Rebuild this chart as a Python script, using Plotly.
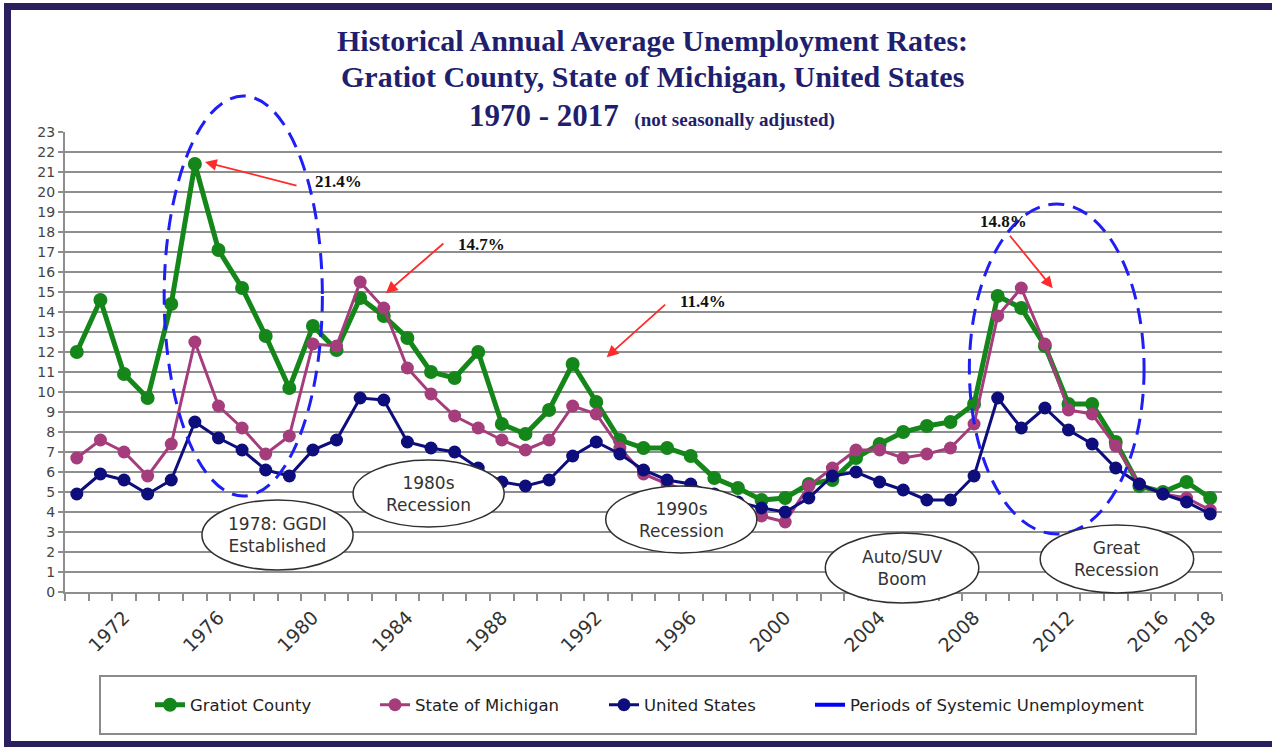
import plotly.graph_objects as go

# ---- data -----------------------------------------------------------------
years = [1970, 1971, 1972, 1973, 1974, 1975, 1976, 1977, 1978, 1979,
         1980, 1981, 1982, 1983, 1984, 1985, 1986, 1987, 1988, 1989,
         1990, 1991, 1992, 1993, 1994, 1995, 1996, 1997, 1998, 1999,
         2000, 2001, 2002, 2003, 2004, 2005, 2006, 2007, 2008, 2009,
         2010, 2011, 2012, 2013, 2014, 2015, 2016, 2017, 2018]

gratiot = [12.0, 14.6, 10.9, 9.7, 14.4, 21.4, 17.1, 15.2, 12.8, 10.2,
           13.3, 12.1, 14.7, 13.8, 12.7, 11.0, 10.7, 12.0, 8.4, 7.9,
           9.1, 11.4, 9.5, 7.6, 7.2, 7.2, 6.8, 5.7, 5.2, 4.6,
           4.7, 5.4, 5.6, 6.7, 7.4, 8.0, 8.3, 8.5, 9.4, 14.8,
           14.2, 12.3, 9.4, 9.4, 7.5, 5.3, 5.0, 5.5, 4.7]

michigan = [6.7, 7.6, 7.0, 5.8, 7.4, 12.5, 9.3, 8.2, 6.9, 7.8,
            12.4, 12.3, 15.5, 14.2, 11.2, 9.9, 8.8, 8.2, 7.6, 7.1,
            7.6, 9.3, 8.9, 7.2, 5.9, 5.4, 5.0, 4.3, 3.9, 3.8,
            3.5, 5.3, 6.2, 7.1, 7.1, 6.7, 6.9, 7.2, 8.4, 13.8,
            15.2, 12.4, 9.1, 8.9, 7.3, 5.4, 4.9, 4.7, 4.1]

united_states = [4.9, 5.9, 5.6, 4.9, 5.6, 8.5, 7.7, 7.1, 6.1, 5.8,
                 7.1, 7.6, 9.7, 9.6, 7.5, 7.2, 7.0, 6.2, 5.5, 5.3,
                 5.6, 6.8, 7.5, 6.9, 6.1, 5.6, 5.4, 4.9, 4.5, 4.2,
                 4.0, 4.7, 5.8, 6.0, 5.5, 5.1, 4.6, 4.6, 5.8, 9.7,
                 8.2, 9.2, 8.1, 7.4, 6.2, 5.4, 4.9, 4.5, 3.9]

tick_years = [1972, 1976, 1980, 1984, 1988, 1992, 1996, 2000, 2004,
              2008, 2012, 2016, 2018]
tick_labels = [str(y) for y in tick_years]
rate_ticks = list(range(0, 24))

# ---- geometry ---------------------------------------------------------------
FIG_W, FIG_H = 1272, 747
M_L, M_R, M_T, M_B = 65, 50, 132, 155
X_RANGE = (1969.5, 2018.5)
Y_RANGE = (0, 23)
PLOT_W = FIG_W - M_L - M_R
PLOT_H = FIG_H - M_T - M_B


def xpaper(year):
    return (year - X_RANGE[0]) / (X_RANGE[1] - X_RANGE[0])


def ypaper(rate):
    return (rate - Y_RANGE[0]) / (Y_RANGE[1] - Y_RANGE[0])


def px_x(px):
    return (px - M_L) / PLOT_W


def px_y(py):
    return (FIG_H - M_B - py) / PLOT_H


GREEN = "#14861a"
PURPLE = "#a53d7d"
NAVY = "#0d0d7c"
DASH_BLUE = "#1e1ef5"
GRID = "#8e8e8e"
SANS = "DejaVu Sans"
SERIF = "Liberation Serif"

fig = go.Figure()

fig.add_trace(go.Scatter(
    x=years, y=gratiot, name="Gratiot County", mode="lines+markers",
    line=dict(color=GREEN, width=5), marker=dict(color=GREEN, size=14),
    legend="legend"))
fig.add_trace(go.Scatter(
    x=years, y=michigan, name="State of Michigan", mode="lines+markers",
    line=dict(color=PURPLE, width=3), marker=dict(color=PURPLE, size=13),
    legend="legend2"))
fig.add_trace(go.Scatter(
    x=years, y=united_states, name="United States", mode="lines+markers",
    line=dict(color=NAVY, width=3), marker=dict(color=NAVY, size=13),
    legend="legend3"))
fig.add_trace(go.Scatter(
    x=[None], y=[None], name="Periods of Systemic Unemployment", mode="lines",
    line=dict(color="#0000ff", width=4), legend="legend4"))

# ---- shapes -----------------------------------------------------------------
shapes = []

# outer frame
shapes.append(dict(type="rect", xref="paper", yref="paper",
                   x0=px_x(7.5), x1=px_x(1300), y0=px_y(744.5), y1=px_y(6.5),
                   line=dict(color="#2c1f5e", width=7), layer="above"))

# legend box
shapes.append(dict(type="rect", xref="paper", yref="paper",
                   x0=px_x(100), x1=px_x(1196), y0=px_y(734), y1=px_y(676),
                   line=dict(color="#8a8a8a", width=2), layer="above"))

# periods of systemic unemployment (year span, rate span)
periods = [(1973.7, 1980.4, 4.8, 24.8), (2007.8, 2015.2, 2.9, 19.4)]
for x0, x1, y0, y1 in periods:
    shapes.append(dict(type="circle", xref="paper", yref="paper",
                       x0=xpaper(x0), x1=xpaper(x1), y0=ypaper(y0), y1=ypaper(y1),
                       line=dict(color=DASH_BLUE, width=3, dash="16px,9px"),
                       layer="above"))

# event bubbles (text, year span, rate span)
bubbles = [
    ("1978: GGDI<br>Established", 1975.3, 1981.7, 1.1, 4.6),
    ("1980s<br>Recession", 1981.7, 1988.1, 3.25, 6.6),
    ("1990s<br>Recession", 1992.4, 1998.8, 1.95, 5.3),
    ("Auto/SUV<br>Boom", 2001.7, 2008.2, -0.55, 2.95),
    ("Great<br>Recession", 2010.8, 2017.3, -0.05, 3.35),
]
annotations = []
for text, x0, x1, y0, y1 in bubbles:
    shapes.append(dict(type="circle", xref="paper", yref="paper",
                       x0=xpaper(x0), x1=xpaper(x1), y0=ypaper(y0), y1=ypaper(y1),
                       line=dict(color="#303030", width=1.5), fillcolor="white",
                       layer="above"))
    annotations.append(dict(text=text, xref="paper", yref="paper",
                            x=xpaper((x0 + x1) / 2), y=ypaper((y0 + y1) / 2),
                            xanchor="center", yanchor="middle",
                            showarrow=False, align="center",
                            font=dict(family=SANS, size=17, color="#333333")))

# ---- call-outs with red arrows ---------------------------------------------
# (series, year, label position year/rate, arrow head year/rate, tail offset px)
series = {"gratiot": gratiot}
callouts = [
    ("gratiot", 1975, 1981.07, 20.55, 1975.43, 21.5, 93, 24),
    ("gratiot", 1982, 1987.12, 17.4, 1983.09, 14.94, 59, -51),
    ("gratiot", 1991, 1996.54, 14.52, 1992.44, 11.74, 60, -54),
    ("gratiot", 2009, 2009.23, 18.52, 2011.33, 15.19, -44, -54),
]
for key, yr, tx, ty, hx, hy, ax, ay in callouts:
    value = series[key][years.index(yr)]
    annotations.append(dict(text=f"<b>{value:.1f}%</b>", x=tx, y=ty,
                            xref="x", yref="y", showarrow=False,
                            xanchor="center", yanchor="middle",
                            font=dict(family=SERIF, size=17, color="#111111")))
    annotations.append(dict(text="", x=hx, y=hy, xref="x", yref="y",
                            showarrow=True, ax=ax, ay=ay, arrowhead=2,
                            arrowsize=1.3, arrowwidth=1.8, arrowcolor="#ff2a2a"))

# ---- title --------------------------------------------------------------------
TITLE_COLOR = "#1f1f6e"
title_lines = [
    ("<b>Historical Annual Average Unemployment Rates:</b>", 40, 30),
    ("<b>Gratiot County, State of Michigan, United States</b>", 77, 30),
    ("<b>1970 - 2017</b>&nbsp;&nbsp;<b><span style='font-size:19px'>"
     "(not seasonally adjusted)</span></b>", 115, 31),
]
for text, py, size in title_lines:
    annotations.append(dict(text=text, xref="paper", yref="paper",
                            x=px_x(652), y=px_y(py),
                            xanchor="center", yanchor="middle",
                            showarrow=False,
                            font=dict(family=SERIF, size=size, color=TITLE_COLOR)))

# ---- legends (one per entry, laid out in a row) ------------------------------
legend_x = [150, 375, 604, 810]
legend_common = dict(orientation="h", yanchor="middle", xanchor="left",
                     y=px_y(705), bgcolor="rgba(0,0,0,0)", borderwidth=0,
                     font=dict(family=SANS, size=16.5, color="#222222"),
                     itemwidth=30)

fig.update_layout(
    width=FIG_W, height=FIG_H,
    margin=dict(l=M_L, r=M_R, t=M_T, b=M_B),
    paper_bgcolor="white", plot_bgcolor="rgba(0,0,0,0)",
    showlegend=True,
    legend=dict(x=px_x(legend_x[0]), **legend_common),
    legend2=dict(x=px_x(legend_x[1]), **legend_common),
    legend3=dict(x=px_x(legend_x[2]), **legend_common),
    legend4=dict(x=px_x(legend_x[3]), **legend_common),
    shapes=shapes, annotations=annotations,
    xaxis=dict(range=list(X_RANGE), tickmode="array", tickvals=tick_years,
               ticktext=tick_labels, ticks="", tickangle=-45,
               ticklabelstandoff=5,
               tickfont=dict(family=SANS, size=19, color="#333333"),
               showgrid=False, zeroline=False, showline=True,
               linecolor=GRID, linewidth=2,
               minor=dict(tickvals=[y - 0.5 for y in years] + [years[-1] + 0.5],
                          ticks="outside", ticklen=7, tickwidth=2,
                          tickcolor=GRID, showgrid=False)),
    yaxis=dict(range=list(Y_RANGE), tickmode="array", tickvals=rate_ticks,
               ticktext=[str(v) for v in rate_ticks],
               ticks="outside", ticklen=5, tickwidth=2, tickcolor=GRID,
               tickfont=dict(family=SANS, size=14, color="#444444"),
               showgrid=False, zeroline=False, showline=True,
               linecolor=GRID, linewidth=2,
               minor=dict(tickvals=rate_ticks[1:-1], ticks="",
                          showgrid=True, gridcolor=GRID, gridwidth=2)),
)

fig.write_html("out.html")
